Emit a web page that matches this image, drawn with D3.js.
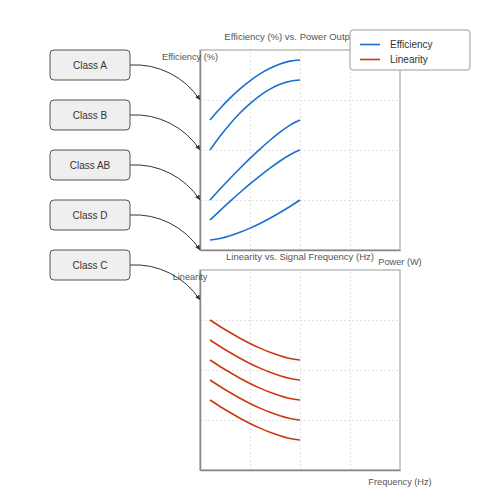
<!DOCTYPE html>
<html>
<head>
<meta charset="utf-8">
<script src="https://cdn.jsdelivr.net/npm/d3@7"></script>
<style>
  html, body { margin: 0; padding: 0; background: #fff; }
  svg { display: block; font-family: "Liberation Sans", Arial, sans-serif; }
</style>
</head>
<body>
<svg id="chart" width="500" height="500"></svg>
<script>
// ---- Data ----
const classes = ["Class A", "Class B", "Class AB", "Class D", "Class C"];
const power = [1, 2, 3, 4, 5, 6, 7, 8, 9, 10];
const efficiency1 = [65, 70.73, 75.92, 80.54, 84.59, 88.04, 90.85, 93.0, 94.42, 95];
const efficiency2 = [50, 56.85, 63.01, 68.47, 73.2, 77.19, 80.42, 82.83, 84.4, 85];
const efficiency3 = [25, 30.48, 35.78, 40.9, 45.82, 50.48, 54.87, 58.9, 62.43, 65];
const efficiency4 = [15, 19.72, 24.31, 28.74, 33.01, 37.09, 40.94, 44.5, 47.66, 50];
const efficiency5 = [5, 5.74, 7.1, 8.85, 10.93, 13.28, 15.89, 18.72, 21.76, 25];
const frequency = [1, 2, 3, 4, 5, 6, 7, 8, 9, 10];
const linearity1 = [75, 71.76, 68.72, 65.89, 63.28, 60.93, 58.85, 57.1, 55.74, 55];
const linearity2 = [65, 61.76, 58.72, 55.89, 53.28, 50.93, 48.85, 47.1, 45.74, 45];
const linearity3 = [55, 51.76, 48.72, 45.89, 43.28, 40.93, 38.85, 37.1, 35.74, 35];
const linearity4 = [45, 41.76, 38.72, 35.89, 33.28, 30.93, 28.85, 27.1, 25.74, 25];
const linearity5 = [35, 31.76, 28.72, 25.89, 23.28, 20.93, 18.85, 17.1, 15.74, 15];
const xTicks = [5, 10, 15];
const yTicks = [25, 50, 75];
const legendLabels = ["Efficiency", "Linearity"];

const efficiencySeries = [efficiency1, efficiency2, efficiency3, efficiency4, efficiency5];
const linearitySeries = [linearity1, linearity2, linearity3, linearity4, linearity5];

const BLUE = "#1a6fd0";
const RED = "#cc3a0c";

const svg = d3.select("#chart");

const defs = svg.append("defs");
defs.append("marker")
  .attr("id", "arrow")
  .attr("viewBox", "0 0 10 10")
  .attr("refX", 10).attr("refY", 5)
  .attr("markerWidth", 5).attr("markerHeight", 5)
  .attr("orient", "auto")
  .append("path").attr("d", "M0,0 L10,5 L0,10 z").attr("fill", "#333");

function panel(top, xs, seriesList, color, title, yLabel, xLabel) {
  const x = d3.scaleLinear().domain([0, 20]).range([200, 400]);
  const y = d3.scaleLinear().domain([0, 100]).range([top + 200, top]);
  const g = svg.append("g");

  // grid
  g.append("g").attr("transform", `translate(0,${top + 200})`)
    .call(d3.axisBottom(x).tickValues(xTicks).tickSize(-200).tickFormat(""))
    .call(s => s.select(".domain").remove())
    .call(s => s.selectAll("line").attr("stroke", "#e2e2e2").attr("stroke-dasharray", "2,2"));
  g.append("g").attr("transform", `translate(200,0)`)
    .call(d3.axisLeft(y).tickValues(yTicks).tickSize(-200).tickFormat(""))
    .call(s => s.select(".domain").remove())
    .call(s => s.selectAll("line").attr("stroke", "#e2e2e2").attr("stroke-dasharray", "2,2"));

  // frame
  g.append("rect").attr("x", x(0)).attr("y", y(100))
    .attr("width", x(20) - x(0)).attr("height", y(0) - y(100))
    .attr("fill", "none").attr("stroke", "#aaa").attr("stroke-width", 1.2);
  // axes
  g.append("g").attr("transform", `translate(0,${y(0)})`)
    .call(d3.axisBottom(x).tickValues([]).tickSizeOuter(0))
    .call(s => s.select(".domain").attr("stroke", "#888").attr("stroke-width", 1.5));
  g.append("g").attr("transform", `translate(${x(0)},0)`)
    .call(d3.axisLeft(y).tickValues([]).tickSizeOuter(0))
    .call(s => s.select(".domain").attr("stroke", "#888").attr("stroke-width", 1.5));

  const line = d3.line().x((d, i) => x(xs[i])).y(d => y(d)).curve(d3.curveNatural);
  g.selectAll("path.series").data(seriesList).enter().append("path")
    .attr("class", "series")
    .attr("d", line).attr("fill", "none").attr("stroke", color).attr("stroke-width", 1.6);

  g.append("text").attr("x", x(10)).attr("y", top - 10).attr("text-anchor", "middle")
    .attr("font-size", 9.5).attr("fill", "#555").text(title);
  g.append("text").attr("x", x(0) - 10).attr("y", top + 10).attr("text-anchor", "middle")
    .attr("font-size", 9.2).attr("fill", "#555").text(yLabel);
  g.append("text").attr("x", x(20)).attr("y", top + 215).attr("text-anchor", "middle")
    .attr("font-size", 9.2).attr("fill", "#555").text(xLabel);
}

panel(50, power, efficiencySeries, BLUE, "Efficiency (%) vs. Power Output (W)", "Efficiency (%)", "Power (W)");
panel(270, frequency, linearitySeries, RED, "Linearity vs. Signal Frequency (Hz)", "Linearity", "Frequency (Hz)");

// class boxes and arrows
const band = d3.scalePoint().domain(classes).range([65, 265]);
const cg = svg.append("g");
classes.forEach((c, i) => {
  const cy = band(c);
  cg.append("rect").attr("x", 50).attr("y", cy - 15).attr("width", 80).attr("height", 30)
    .attr("rx", 4).attr("fill", "#efefef").attr("stroke", "#555").attr("stroke-width", 1);
  cg.append("text").attr("x", 90).attr("y", cy + 3.5).attr("text-anchor", "middle")
    .attr("font-size", 10).attr("fill", "#333").text(c);
  const x0 = 130, y0 = cy, x1 = 200, y1 = cy + 35;
  const dr = Math.hypot(x1 - x0, y1 - y0);
  cg.append("path").attr("d", `M${x0},${y0} A${dr},${dr} 0 0,1 ${x1},${y1}`)
    .attr("fill", "none").attr("stroke", "#333").attr("stroke-width", 1)
    .attr("marker-end", "url(#arrow)");
});

// legend
const lg = svg.append("g");
lg.append("rect").attr("x", 350).attr("y", 30).attr("width", 120).attr("height", 40)
  .attr("rx", 3).attr("fill", "#fff").attr("stroke", "#999").attr("stroke-width", 1);
legendLabels.forEach((l, i) => {
  const ly = 44.5 + i * 15;
  lg.append("line").attr("x1", 360).attr("x2", 380).attr("y1", ly).attr("y2", ly)
    .attr("stroke", i === 0 ? BLUE : RED).attr("stroke-width", 1.6);
  lg.append("text").attr("x", 390).attr("y", ly + 3.5).attr("font-size", 10)
    .attr("fill", "#333").text(l);
});
</script>
</body>
</html>
